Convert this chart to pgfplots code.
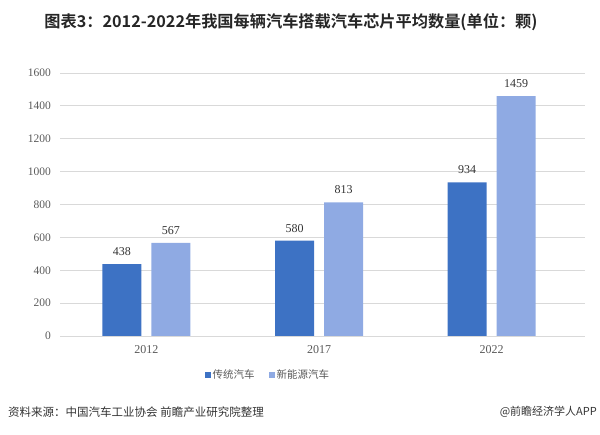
\documentclass[border=0pt]{standalone}
\usepackage{pgfplots}
\pgfplotsset{compat=1.18}
\usepackage{fontspec}
\setmainfont{Liberation Serif}
\newfontfamily\cjk{Noto Sans CJK SC}[BoldFont={Noto Sans CJK SC Bold}]
\definecolor{darkb}{HTML}{3D72C4}
\definecolor{lightb}{HTML}{8FAAE3}
\definecolor{txt}{HTML}{595959}
\definecolor{grd}{HTML}{D9D9D9}
\begin{document}
\begin{tikzpicture}[x=1pt,y=1pt]
\path[use as bounding box] (0,0) rectangle (600,434);
\node[font=\cjk\bfseries\fontsize{16.2}{19}\selectfont, text=black!85] at (291,412) {图表3：2012-2022年我国每辆汽车搭载汽车芯片平均数量(单位：颗)};
\node[font=\cjk\fontsize{11.5}{14}\selectfont, text=black!80, anchor=west, inner sep=0pt] at (8,22) {资料来源：中国汽车工业协会 前瞻产业研究院整理};
\node[font=\cjk\fontsize{11}{14}\selectfont, text=black!80, anchor=east, inner sep=0pt] at (597,22) {@前瞻经济学人APP};
\begin{axis}[
  at={(60pt,98pt)}, anchor=south west,
  scale only axis, width=525pt, height=263pt,
  xmin=-0.5, xmax=2.54, ymin=0, ymax=1600,
  ybar=10pt, bar width=39pt,
  axis line style={draw=none},
  major tick length=0pt,
  ymajorgrids, grid style={grd, line width=0.8pt},
  ytick={0,200,...,1600},
  xtick={0,1,2}, xticklabels={2012,2017,2022},
  /pgf/number format/assume math mode=true,
  /pgf/number format/1000 sep={},
  yticklabel style={font=\fontsize{11.5}{13}\selectfont, text=txt, anchor=east, inner sep=0pt, xshift=-9pt},
  xticklabel style={font=\fontsize{12}{14}\selectfont, text=txt, anchor=center, inner sep=0pt, yshift=-14pt},
  nodes near coords,
  every node near coord/.append style={font=\fontsize{12}{14}\selectfont, text=black!80, yshift=5pt},
  legend style={at={(0.396,-0.148)}, anchor=center, draw=none, fill=none,
    legend columns=2, font=\cjk\fontsize{10.5}{12}\selectfont, text=txt,
    /tikz/every even column/.append style={column sep=12pt}},
  legend image code/.code={\fill[#1] (0pt,-3pt) rectangle (6pt,3pt);},
]
\addplot[fill=darkb, draw=none] coordinates {(0,438) (1,580) (2,934)};
\addplot[fill=lightb, draw=none] coordinates {(0,567) (1,813) (2,1459)};
\legend{传统汽车,新能源汽车}
\end{axis}
\end{tikzpicture}
\end{document}
